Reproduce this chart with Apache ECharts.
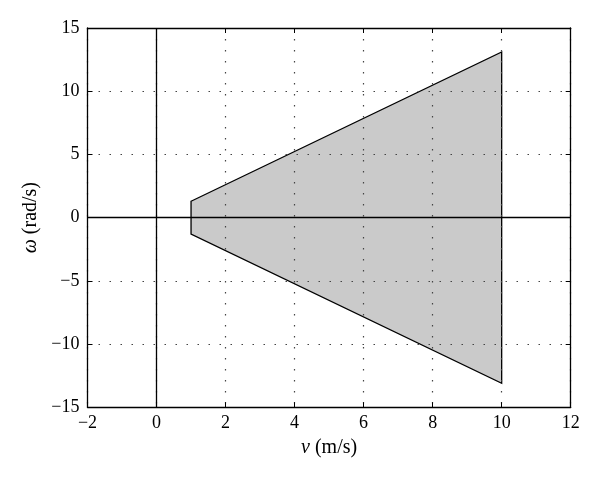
<!DOCTYPE html>
<html>
<head>
<meta charset="utf-8">
<script src="https://cdn.jsdelivr.net/npm/echarts@6/dist/echarts.min.js"></script>
<style>
  html, body { margin: 0; padding: 0; background: #fff; }
  #chart { width: 600px; height: 477px; }
</style>
</head>
<body>
<div id="chart"></div>
<script>
// feasible region corners (v, omega)
const polyV = [1, 10, 10, 1]
const polyW = [1.3, 13.1, -13.1, -1.3]

const xTicks = [-2, 0, 2, 4, 6, 8, 10, 12]
const yTicks = [-15, -10, -5, 0, 5, 10, 15]

const font = 'Liberation Serif'
const chart = echarts.init(document.getElementById('chart'))

const dotted = { show: true, lineStyle: { color: '#444', type: [1.5, 9.5], width: 1.2 } }
const tick = { show: true, inside: true, length: 5, lineStyle: { color: '#000' } }
const axLine = { show: true, onZero: false, lineStyle: { color: '#000', width: 1.3 } }
const minus = v => String(v).replace('-', '\u2212')

const xBase = {
  type: 'value', min: xTicks[0], max: xTicks[xTicks.length - 1], interval: 2,
  axisLine: axLine, axisTick: tick
}
const yBase = {
  type: 'value', min: yTicks[0], max: yTicks[yTicks.length - 1], interval: 5,
  axisLine: axLine, axisTick: tick
}
const nameStyle = {
  color: '#000', fontSize: 20, fontFamily: font,
  rich: { i: { fontStyle: 'italic', fontSize: 20, fontFamily: font, color: '#000' } }
}

const option = {
  animation: false,
  textStyle: { fontFamily: font },
  grid: { left: 87.5, right: 29.3, top: 28, bottom: 69.7 },
  xAxis: [
    Object.assign({}, xBase, {
      position: 'bottom',
      splitLine: dotted,
      axisLabel: { color: '#000', fontSize: 18, fontFamily: font, margin: 7, formatter: minus },
      name: '{i|v} (m/s)',
      nameLocation: 'middle',
      nameGap: 30,
      nameTextStyle: nameStyle
    }),
    Object.assign({}, xBase, {
      position: 'top', splitLine: { show: false }, axisLabel: { show: false }
    })
  ],
  yAxis: [
    Object.assign({}, yBase, {
      position: 'left',
      splitLine: dotted,
      axisLabel: { color: '#000', fontSize: 18, fontFamily: font, margin: 8, formatter: minus },
      name: '{i|ω} (rad/s)',
      nameLocation: 'middle',
      nameGap: 40,
      nameTextStyle: nameStyle
    }),
    Object.assign({}, yBase, {
      position: 'right', splitLine: { show: false }, axisLabel: { show: false }
    })
  ],
  series: [
    {
      type: 'custom',
      xAxisIndex: 0,
      yAxisIndex: 0,
      data: polyV.map((v, i) => [v, polyW[i]]),
      renderItem: function (params, api) {
        if (params.dataIndex !== 0) return null
        const pts = polyV.map((v, i) => api.coord([v, polyW[i]]))
        return {
          type: 'polygon',
          shape: { points: pts },
          style: { fill: '#cacaca', stroke: '#000', lineWidth: 1.3 }
        }
      },
      z: -1
    },
    {
      type: 'line',
      data: [],
      z: 3,
      markLine: {
        silent: true,
        symbol: 'none',
        label: { show: false },
        lineStyle: { color: '#000', type: 'solid', width: 1.3 },
        data: [{ xAxis: 0 }, { yAxis: 0 }]
      }
    }
  ]
}

chart.setOption(option)
</script>
</body>
</html>
